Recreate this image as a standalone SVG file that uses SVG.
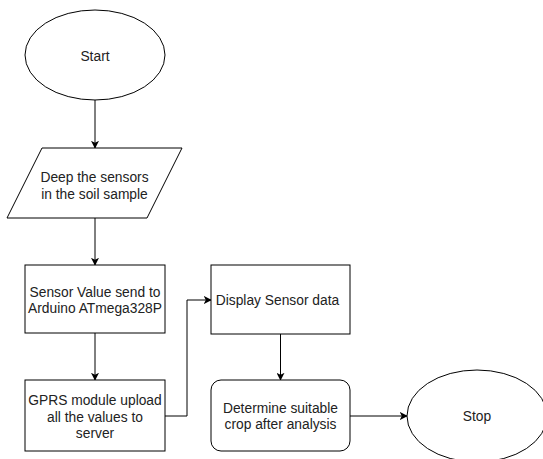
<svg xmlns="http://www.w3.org/2000/svg" width="543" height="459" viewBox="0 0 543 459">
  <style>
    .shape { fill: #ffffff; stroke: #000000; stroke-width: 1; }
    .label { font-family: "Liberation Sans", Arial, sans-serif; font-size: 13.8px; fill: #222222; text-anchor: middle; }
    .edge { fill: none; stroke: #000000; stroke-width: 1; }
  </style>
  <defs>
    <marker id="arrow" viewBox="0 0 10 10" refX="9" refY="5" markerWidth="8" markerHeight="8" markerUnits="userSpaceOnUse" orient="auto">
      <path d="M0,0 L10,5 L0,10 L2.5,5 Z" fill="#000000"/>
    </marker>
  </defs>
  <rect width="543" height="459" fill="#ffffff"/>

  <g id="connectors">
    <path class="edge" d="M95,100 V148" marker-end="url(#arrow)"/>
    <path class="edge" d="M95,218 V265" marker-end="url(#arrow)"/>
    <path class="edge" d="M95,333 V380" marker-end="url(#arrow)"/>
    <path class="edge" d="M165,416 H187 V300 H211" marker-end="url(#arrow)"/>
    <path class="edge" d="M280.5,334 V380" marker-end="url(#arrow)"/>
    <path class="edge" d="M350,416 H407" marker-end="url(#arrow)"/>
  </g>

  <g id="start">
    <ellipse class="shape" cx="95" cy="55" rx="70" ry="45"/>
    <text class="label" x="95" y="61">Start</text>
  </g>

  <g id="deep-sensors">
    <polygon class="shape" points="42,148 182,148 147,218 7,218"/>
    <text class="label" x="94.5" y="182">Deep the sensors</text>
    <text class="label" x="94.5" y="199">in the soil sample</text>
  </g>

  <g id="sensor-value">
    <rect class="shape" x="25" y="265" width="140" height="68"/>
    <text class="label" x="95" y="297">Sensor Value send to</text>
    <text class="label" x="95" y="313">Arduino ATmega328P</text>
  </g>

  <g id="gprs-upload">
    <rect class="shape" x="25" y="380" width="140" height="71"/>
    <text class="label" x="95" y="405">GPRS module upload</text>
    <text class="label" x="95" y="422">all the values to</text>
    <text class="label" x="95" y="438">server</text>
  </g>

  <g id="display-data">
    <rect class="shape" x="211" y="265" width="139" height="69"/>
    <text class="label" x="277.5" y="305">Display Sensor data</text>
  </g>

  <g id="determine-crop">
    <rect class="shape" x="211" y="380" width="139" height="71" rx="10" ry="10"/>
    <text class="label" x="280.5" y="413">Determine suitable</text>
    <text class="label" x="280.5" y="429">crop after analysis</text>
  </g>

  <g id="stop">
    <ellipse class="shape" cx="477" cy="416" rx="70" ry="46"/>
    <text class="label" x="477" y="421">Stop</text>
  </g>
</svg>
